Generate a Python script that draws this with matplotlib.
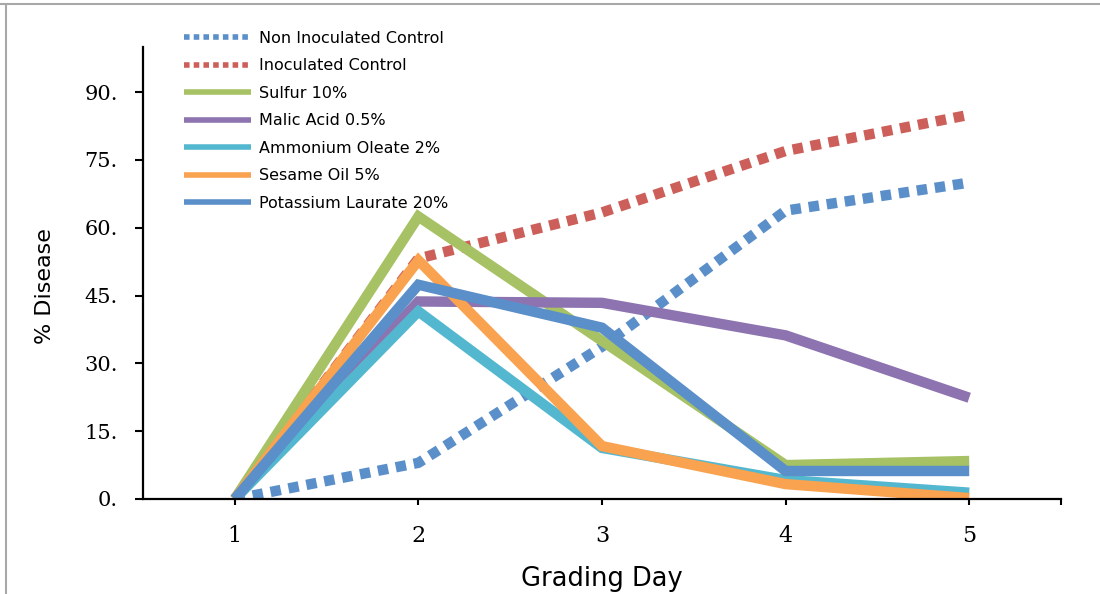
import numpy as np
import matplotlib
matplotlib.use("Agg")
import matplotlib.pyplot as plt
from matplotlib.lines import Line2D

# Data
days = [1, 2, 3, 4, 5]
non_inoculated = [0, 8.0, 33.7, 63.8, 70.0]
inoculated = [0, 53.2, 63.4, 77.0, 85.0]
sulfur = [0, 62.5, 35.0, 7.5, 8.4]
malic_acid = [0, 43.7, 43.4, 36.2, 22.4]
ammonium_oleate = [0, 41.5, 11.3, 4.2, 1.4]
sesame_oil = [0, 52.8, 11.7, 3.3, 0.2]
potassium_laurate = [0, 47.4, 37.9, 6.2, 6.2]

series_names = ["Non Inoculated Control", "Inoculated Control", "Sulfur 10%",
                "Malic Acid 0.5%", "Ammonium Oleate 2%", "Sesame Oil 5%",
                "Potassium Laurate 20%"]
yticks = [0, 15, 30, 45, 60, 75, 90]
ytick_labels = ["0.", "15.", "30.", "45.", "60.", "75.", "90."]

colors = ["#5b8fc9", "#cd5f5a", "#a6c264", "#8d74b0", "#53b8cf", "#f9a24f", "#5b8fc9"]
dotted = [True, True, False, False, False, False, False]
all_series = [non_inoculated, inoculated, sulfur, malic_acid,
              ammonium_oleate, sesame_oil, potassium_laurate]

fig = plt.figure(figsize=(11, 5.94), dpi=100)
ax = fig.add_axes([143 / 1100, 1 - 499 / 594, 918 / 1100, 452 / 594])

lines = []
for vals, name, c, dot in zip(all_series, series_names, colors, dotted):
    if dot:
        ln, = ax.plot(days, vals, color=c, lw=7.5, linestyle=(0, (1, 0.75)),
                      dash_capstyle="butt", label=name)
    else:
        ln, = ax.plot(days, vals, color=c, lw=7.5, solid_capstyle="butt",
                      solid_joinstyle="miter", label=name)
    lines.append(ln)

ax.set_xlim(0.5, 5.5)
ax.set_ylim(0, 100)
ax.set_xticks(days)
ax.set_xticks([5.5], minor=True)
ax.set_yticks(yticks)
ax.set_yticklabels(ytick_labels)

for s in ["top", "right"]:
    ax.spines[s].set_visible(False)
for s in ["left", "bottom"]:
    ax.spines[s].set_linewidth(1.6)
    ax.spines[s].set_color("black")

ax.tick_params(axis="y", direction="out", length=6, width=1.5, pad=12,
               labelsize=15, labelfontfamily="DejaVu Serif")
ax.tick_params(axis="x", which="both", direction="out", length=4, width=1.5, pad=15,
               labelsize=16, labelfontfamily="DejaVu Serif")

ax.set_ylabel("% Disease", fontsize=16, family="DejaVu Sans")
ax.yaxis.set_label_coords(-0.107, 0.47)
ax.set_xlabel("Grading Day", fontsize=18.5, family="DejaVu Sans")
ax.xaxis.set_label_coords(0.5, -0.176)
ax.xaxis.label.set_va("center")
ax.yaxis.label.set_va("center")

leg = fig.legend(handles=lines, loc="upper left", bbox_to_anchor=(184 / 1100, 1 - 31 / 594),
                 frameon=False, fontsize=11.5, handlelength=4.2, handletextpad=0.5,
                 labelspacing=0.78, borderpad=0, borderaxespad=0)
for h in leg.legend_handles:
    h.set_linewidth(4)

# chart area border (gray frame, top and left visible)
fig.add_artist(Line2D([0, 1], [1 - 3.5 / 594, 1 - 3.5 / 594], color="#a8a8a8", lw=1.5,
                      transform=fig.transFigure))
fig.add_artist(Line2D([5.5 / 1100, 5.5 / 1100], [0, 1 - 3.5 / 594], color="#a8a8a8", lw=1.5,
                      transform=fig.transFigure))

fig.savefig("out.png", dpi=100)
